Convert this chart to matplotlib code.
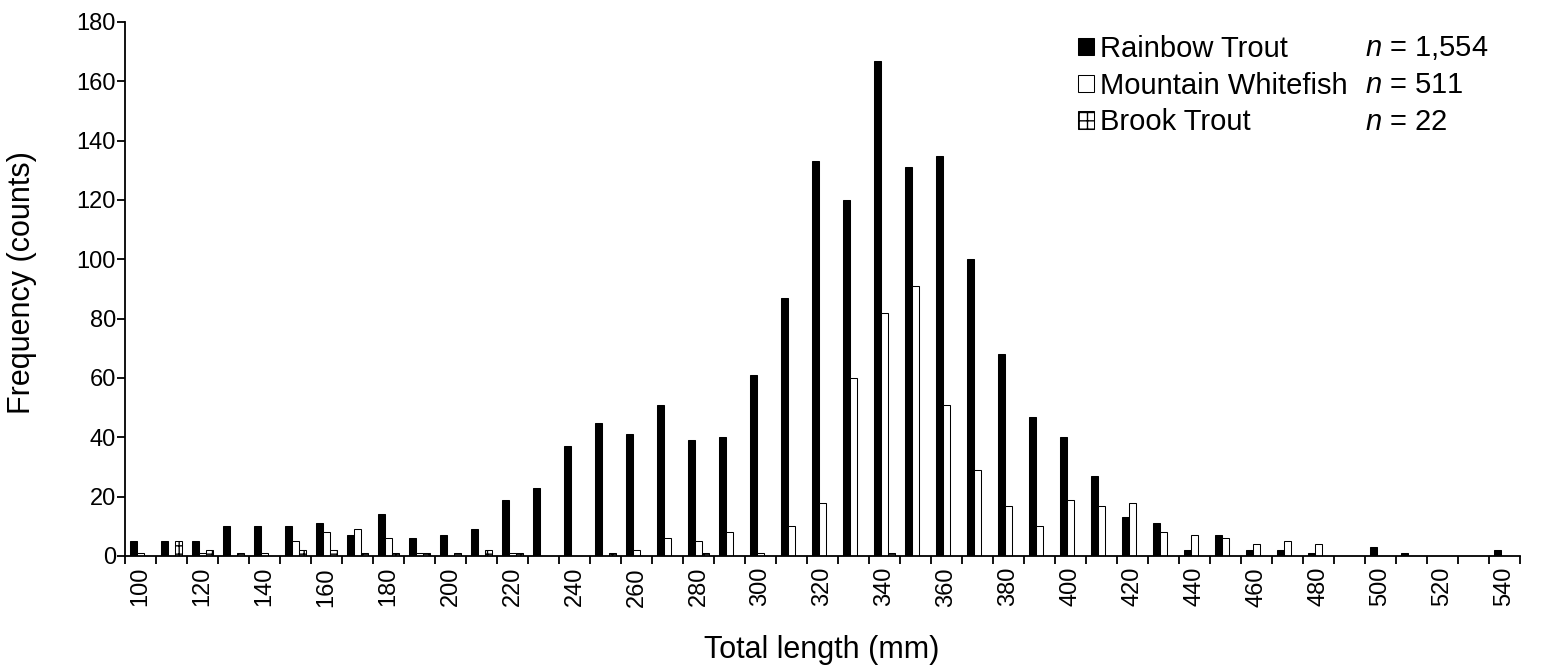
import numpy as np
import matplotlib.pyplot as plt
from matplotlib.patches import Patch

plt.rcParams['font.family'] = ['Liberation Sans', 'DejaVu Sans']
plt.rcParams['mathtext.fontset'] = 'custom'
plt.rcParams['mathtext.rm'] = 'Liberation Sans'
plt.rcParams['mathtext.it'] = 'Liberation Sans:italic'
plt.rcParams['hatch.linewidth'] = 1.0

# 10 mm length bins, 100 - 540 mm
lengths = list(range(100, 550, 10))

rainbow = [5, 5, 5, 10, 10, 10, 11, 7, 14, 6,
           7, 9, 19, 23, 37, 45, 41, 51, 39, 40,
           61, 87, 133, 120, 167, 131, 135, 100, 68, 47,
           40, 27, 13, 11, 2, 7, 2, 2, 1, 0,
           3, 1, 0, 0, 2]
whitefish = [1, 0, 1, 0, 1, 5, 8, 9, 6, 1,
             0, 0, 1, 0, 0, 0, 2, 6, 5, 8,
             1, 10, 18, 60, 82, 91, 51, 29, 17, 10,
             19, 17, 18, 8, 7, 6, 4, 5, 4, 0,
             0, 0, 0, 0, 0]
brook = [0, 5, 2, 1, 0, 2, 2, 1, 1, 1,
         1, 2, 1, 0, 0, 1, 0, 0, 1, 0,
         0, 0, 0, 0, 1, 0, 0, 0, 0, 0,
         0, 0, 0, 0, 0, 0, 0, 0, 0, 0,
         0, 0, 0, 0, 0]

species = ['Rainbow Trout', 'Mountain Whitefish', 'Brook Trout']
n_labels = ['1,554', '511', '22']

W, H = 1555, 670
fig = plt.figure(figsize=(W / 100, H / 100), dpi=100)
ax = fig.add_axes([125 / W, 1 - 556 / H, 1395 / W, 534 / H])

x = np.arange(len(lengths))
w = 0.225
ax.bar(x - w, rainbow, w, color='black', edgecolor='black', linewidth=0.75)
ax.bar(x, whitefish, w, color='white', edgecolor='black', linewidth=0.75)
ax.bar(x + w, brook, w, color='white', edgecolor='black', linewidth=0.75, hatch='++')

ax.set_xlim(-0.5, len(lengths) - 0.5)
ax.set_ylim(0, 180)
ax.set_yticks(range(0, 181, 20))

# ticks between bins, labels on every other bin
ax.set_xticks(np.arange(-0.5, len(lengths), 1))
ax.set_xticklabels([])
ax.set_xticks(x[::2], minor=True)
ax.set_xticklabels([str(v) for v in lengths[::2]], minor=True, rotation=90)
ax.tick_params(axis='x', which='minor', length=0, pad=8, labelsize=17)
ax.tick_params(axis='x', which='major', length=6, width=1.3, direction='out')
ax.tick_params(axis='y', length=6, width=1.3, direction='out', labelsize=17, pad=0.5)

for s in ['top', 'right']:
    ax.spines[s].set_visible(False)
for s in ['left', 'bottom']:
    ax.spines[s].set_linewidth(1.3)

fig.text(22 / W, 1 - 283 / H, 'Frequency (counts)', fontsize=22, rotation=90,
         ha='center', va='center')
fig.text(822 / W, 1 - 650 / H, 'Total length (mm)', fontsize=22,
         ha='center', va='center')

handles = [Patch(facecolor='black', edgecolor='black', linewidth=0.75),
           Patch(facecolor='white', edgecolor='black', linewidth=0.75),
           Patch(facecolor='white', edgecolor='black', linewidth=0.75, hatch='++')]
fig.legend(handles, species, loc='upper left', bbox_to_anchor=(1078 / W, 1 - 35 / H),
           frameon=False, fontsize=21, handlelength=0.55, handleheight=0.55,
           handletextpad=0.2, labelspacing=0.3, borderaxespad=0, borderpad=0)

for i, lab in enumerate(n_labels):
    fig.text(1365 / W, 1 - (48 + 37 * i) / H, r'$n$ = ' + lab, fontsize=21, va='center')

fig.savefig('out.png', dpi=100)
